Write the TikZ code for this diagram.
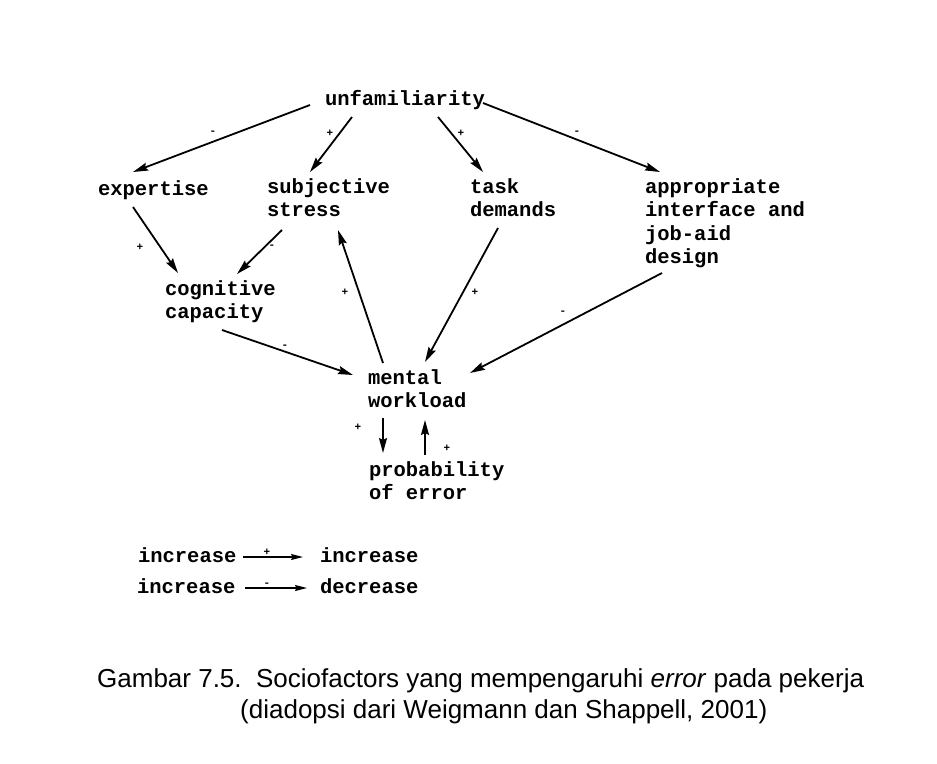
\documentclass[tikz,border=0pt]{standalone}
\usepackage{fontspec}
\setmainfont{Liberation Serif}
\newfontfamily\diagfont{Liberation Mono}
\newfontfamily\capfont{Liberation Sans}
\usetikzlibrary{arrows.meta}
\begin{document}
\begin{tikzpicture}[x=1bp,y=-1bp,
  concept/.style={anchor=north west, inner sep=0pt, outer sep=0pt, align=left,
    font={\diagfont\bfseries\fontsize{20.5bp}{23.3bp}\selectfont},
    execute at begin node=\strut},
  sgn/.style={inner sep=0pt, font={\diagfont\bfseries\fontsize{11bp}{11bp}\selectfont}},
  link/.style={line width=1.8bp, -{Stealth[length=15bp,width=8bp,inset=2bp]}},
  key/.style={line width=1.4bp, -{Stealth[length=12bp,width=6bp,inset=1.5bp]}},
  caption/.style={anchor=base west, inner sep=0pt, font={\capfont\fontsize{26bp}{31bp}\selectfont}}]
\useasboundingbox (0,0) rectangle (937,764);

% concepts (first baseline sits 16.3bp below the node top)
\node[concept] (unf)   at (325,88.7)  {unfamiliarity};
\node[concept] (exp)   at (98,178.7)  {expertise};
\node[concept] (subj)  at (267,178.7) {subjective\\stress};
\node[concept] (task)  at (470,178.7) {task\\demands};
\node[concept] (iface) at (645,178.7) {appropriate\\interface and\\job-aid\\design};
\node[concept] (cog)   at (165,280.7) {cognitive\\capacity};
\node[concept] (work)  at (368,369.7) {mental\\workload};
\node[concept] (perr)  at (369,461.7) {probability\\of error};

% influences
\draw[link] ([shift={(-15,16.3)}]unf.north west) -- ([shift={(35,-6.7)}]exp.north west);
\draw[link] ([shift={(27,28.3)}]unf.north west)  -- ([shift={(43,-6.7)}]subj.north west);
\draw[link] ([shift={(113,28.3)}]unf.north west) -- ([shift={(13,-6.7)}]task.north west);
\draw[link] ([shift={(158,14.3)}]unf.north west) -- ([shift={(15,-6.7)}]iface.north west);
\draw[link] ([shift={(35,28.3)}]exp.north west)  -- ([shift={(13,-7.7)}]cog.north west);
\draw[link] ([shift={(15,51.3)}]subj.north west) -- ([shift={(72,-6.7)}]cog.north west);
\draw[link] ([shift={(15,-6.7)}]work.north west) -- ([shift={(71,51.3)}]subj.north west);
\draw[link] ([shift={(28,49.3)}]task.north west) -- ([shift={(57,-7.7)}]work.north west);
\draw[link] ([shift={(17,94.3)}]iface.north west) -- ([shift={(102,3.3)}]work.north west);
\draw[link] ([shift={(57,49.3)}]cog.north west)  -- ([shift={(-15,5.3)}]work.north west);
\draw[link] ([shift={(15,48.3)}]work.north west) -- ([shift={(14,-8.7)}]perr.north west);
\draw[link] ([shift={(56,-6.7)}]perr.north west) -- ([shift={(57,50.3)}]work.north west);

% signs of the influences
\node[sgn] (s1)  at (213,133) {-};
\node[sgn] (s2)  at (330,133) {+};
\node[sgn] (s3)  at (461,133) {+};
\node[sgn] (s4)  at (577,133) {-};
\node[sgn] (s5)  at (140,247) {+};
\node[sgn] (s6)  at (272,247) {-};
\node[sgn] (s7)  at (345,292) {+};
\node[sgn] (s8)  at (475,292) {+};
\node[sgn] (s9)  at (563,313) {-};
\node[sgn] (s10) at (285,347) {-};
\node[sgn] (s11) at (358,427) {+};
\node[sgn] (s12) at (447,448) {+};

% key
\node[concept] (ka) at (138,545.7) {increase};
\node[concept] (kb) at (320,545.7) {increase};
\node[concept] (kc) at (137,576.7) {increase};
\node[concept] (kd) at (320,576.7) {decrease};
\draw[key] ([shift={(105,11.3)}]ka.north west) -- ([shift={(-17,11.3)}]kb.north west);
\draw[key] ([shift={(108,11.3)}]kc.north west) -- ([shift={(-13,11.3)}]kd.north west);
\node[sgn] (s13) at (267,552) {+};
\node[sgn] (s14) at (267,585) {-};

% caption
\node[caption] (cap1) at (97,687) {Gambar 7.5.\ \ Sociofactors yang mempengaruhi \textit{error} pada pekerja};
\node[caption] (cap2) at (240,718) {(diadopsi dari Weigmann dan Shappell, 2001)};
\end{tikzpicture}
\end{document}
